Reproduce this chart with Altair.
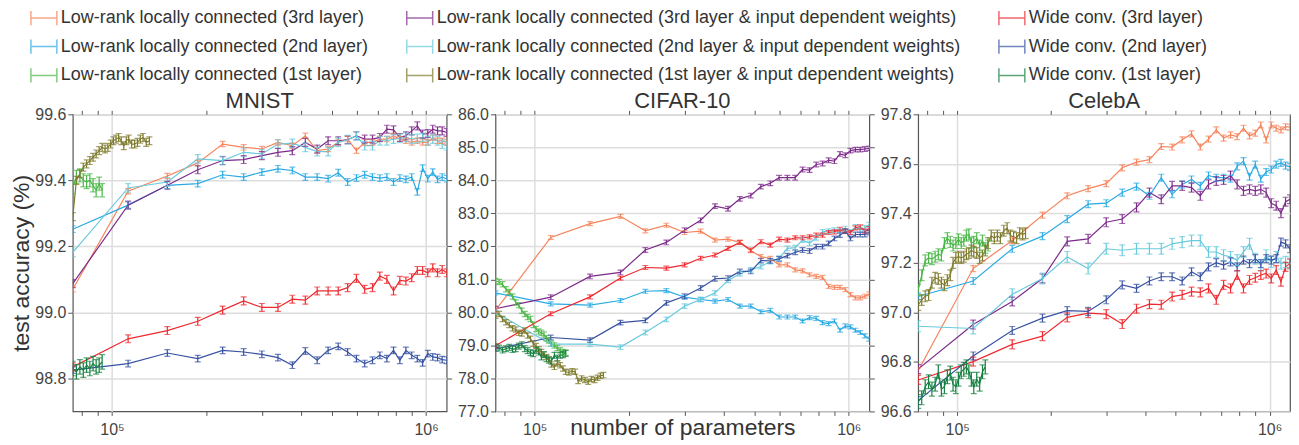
import altair as alt
import pandas as pd

FONT = "Liberation Sans"

# ---------------- series definitions (legend order: column-major, 3 columns) ----------------
SERIES = ["LR3", "LR2", "LR1", "LR3I", "LR2I", "LR1I", "W3", "W2", "W1"]
LABELS = [
    "Low-rank locally connected (3rd layer)",
    "Low-rank locally connected (2nd layer)",
    "Low-rank locally connected (1st layer)",
    "Low-rank locally connected (3rd layer & input dependent weights)",
    "Low-rank locally connected (2nd layer & input dependent weights)",
    "Low-rank locally connected (1st layer & input dependent weights)",
    "Wide conv. (3rd layer)",
    "Wide conv. (2nd layer)",
    "Wide conv. (1st layer)",
]
COLORS = ["#F6845C", "#2AAAE2", "#4CB848", "#7D2B8B", "#6ACADD", "#7E7B2C", "#EE2A2F", "#3852A3", "#168040"]

# ---------------- x positions ----------------
X_MAIN = [75000, 112500, 150000, 187500, 225000, 262500, 300000, 337500, 375000, 412500,
          450000, 487500, 525000, 562500, 600000, 637500, 675000, 712500, 750000, 787500,
          825000, 862500, 900000, 937500, 975000, 1012500, 1050000, 1087500, 1125000, 1162500]
X_DENSE = [75000, 77000, 79000, 81000, 83000, 85000, 87000, 89000, 91000, 93000,
           95000, 97000, 99000, 101000, 103000, 105000, 107000, 109000, 111000, 113000,
           115500, 118000, 120500, 123000, 125500, 128500, 131500, 134500, 137500, 141000,
           144500, 148000, 151500, 155000, 158500, 162000, 165500]

# ---------------- MNIST ----------------
MNIST_LR3 = [99.07, 99.367, 99.413, 99.453, 99.51, 99.50, 99.495, 99.515, 99.505, 99.535,
             99.49, 99.495, 99.515, 99.525, 99.49, 99.515, 99.515, 99.525, 99.525, 99.535,
             99.525, 99.52, 99.515, 99.52, 99.515, 99.515, 99.53, 99.52, 99.52, 99.515]
MNIST_LR2 = [99.252, 99.325, 99.385, 99.39, 99.417, 99.41, 99.425, 99.435, 99.43, 99.41,
             99.41, 99.405, 99.423, 99.395, 99.407, 99.417, 99.41, 99.407, 99.41, 99.395,
             99.407, 99.403, 99.41, 99.365, 99.437, 99.405, 99.425, 99.403, 99.41, 99.405]
MNIST_LR2I = [99.182, 99.377, 99.395, 99.465, 99.46, 99.485, 99.48, 99.51, 99.512, 99.50,
              99.487, 99.487, 99.515, 99.523, 99.535, 99.505, 99.505, 99.52, 99.52, 99.525,
              99.527, 99.53, 99.525, 99.527, 99.53, 99.52, 99.525, 99.52, 99.51, 99.505]
MNIST_LR3I = [99.087, 99.325, 99.385, 99.432, 99.46, 99.463, 99.475, 99.485, 99.49, 99.515,
              99.495, 99.52, 99.52, 99.523, 99.535, 99.525, 99.525, 99.53, 99.555, 99.553,
              99.53, 99.535, 99.55, 99.565, 99.54, 99.542, 99.555, 99.55, 99.55, 99.545]
MNIST_W3 = [98.835, 98.92, 98.945, 98.973, 99.007, 99.035, 99.015, 99.015, 99.04, 99.037,
            99.065, 99.065, 99.065, 99.075, 99.103, 99.07, 99.075, 99.11, 99.10, 99.065,
            99.097, 99.095, 99.105, 99.127, 99.127, 99.12, 99.135, 99.12, 99.13, 99.12]
MNIST_W2 = [98.825, 98.845, 98.877, 98.86, 98.885, 98.88, 98.873, 98.863, 98.84, 98.883,
            98.855, 98.885, 98.897, 98.88, 98.86, 98.845, 98.855, 98.87, 98.86, 98.885,
            98.855, 98.885, 98.87, 98.86, 98.847, 98.875, 98.865, 98.863, 98.857, 98.855]
MNIST_LR1 = [99.38, 99.41, 99.415, 99.40, 99.395, 99.40, 99.385, 99.37, 99.39, 99.37]
MNIST_LR1I = [99.29, 99.40, 99.42, 99.44, 99.45, 99.46, 99.47, 99.48, 99.49, 99.50,
              99.495, 99.50, 99.51, 99.52, 99.525, 99.53, 99.52, 99.505, 99.52, 99.525,
              99.51, 99.51, 99.515, 99.525, 99.53, 99.515, 99.52]
MNIST_W1 = [98.83, 98.82, 98.835, 98.825, 98.84, 98.83, 98.845, 98.835, 98.84, 98.85]

# ---------------- CIFAR-10 ----------------
CIFAR_LR3 = [80.06, 82.27, 82.69, 82.91, 82.47, 82.64, 82.42, 82.46, 82.19, 82.22,
             82.12, 81.87, 81.69, 81.64, 81.44, 81.44, 81.29, 81.26, 81.14, 81.09,
             81.06, 80.79, 80.76, 80.76, 80.69, 80.54, 80.44, 80.44, 80.49, 80.56]
CIFAR_LR2 = [80.59, 80.26, 80.22, 80.36, 80.64, 80.66, 80.46, 80.39, 80.34, 80.39,
             80.19, 80.19, 80.02, 80.06, 79.86, 79.86, 79.86, 79.74, 79.84, 79.82,
             79.69, 79.66, 79.74, 79.46, 79.59, 79.56, 79.46, 79.39, 79.29, 79.19]
CIFAR_LR2I = [80.00, 79.04, 79.04, 78.95, 79.39, 79.79, 80.19, 80.39, 80.59, 80.97,
              81.17, 81.29, 81.39, 81.54, 81.64, 81.94, 81.96, 82.19, 82.09, 82.26,
              82.44, 82.46, 82.49, 82.46, 82.54, 82.44, 82.59, 82.49, 82.56, 82.66]
CIFAR_LR3I = [80.11, 80.46, 81.09, 81.21, 81.89, 82.12, 82.49, 82.79, 83.22, 83.14,
              83.44, 83.54, 83.81, 83.91, 84.08, 84.08, 84.08, 84.33, 84.31, 84.48,
              84.51, 84.61, 84.58, 84.80, 84.76, 84.90, 84.93, 84.93, 84.95, 84.97]
CIFAR_W3 = [78.99, 79.96, 80.47, 81.04, 81.36, 81.34, 81.44, 81.64, 81.74, 81.94,
            82.12, 81.89, 82.14, 82.04, 82.22, 82.19, 82.26, 82.26, 82.29, 82.34,
            82.34, 82.42, 82.44, 82.52, 82.46, 82.42, 82.56, 82.59, 82.46, 82.54]
CIFAR_W2 = [78.89, 79.24, 79.16, 79.69, 79.76, 80.29, 80.49, 80.74, 81.02, 81.04,
            81.24, 81.24, 81.57, 81.56, 81.62, 81.72, 81.82, 81.89, 81.86, 81.99,
            81.99, 82.09, 82.24, 82.34, 82.46, 82.24, 82.36, 82.36, 82.36, 82.42]
CIFAR_LR1 = [80.95, 80.92, 80.85, 80.70, 80.62, 80.48, 80.30, 80.22, 80.05, 79.95,
             79.86, 79.80, 79.62, 79.50, 79.42, 79.38, 79.33, 79.22, 79.15, 79.05,
             79.00, 78.92, 78.85, 78.80, 78.78]
CIFAR_LR1I = [79.90, 79.95, 79.80, 79.70, 79.62, 79.52, 79.48, 79.38, 79.36, 79.45,
              79.30, 79.20, 79.05, 78.98, 78.88, 78.80, 78.72, 78.65, 78.58, 78.42,
              78.35, 78.45, 78.40, 78.30, 78.20, 78.18, 78.22, 78.20, 77.92, 78.00,
              77.95, 77.90, 77.98, 77.95, 78.02, 78.08, 78.10]
CIFAR_W1 = [78.95, 78.92, 78.86, 78.90, 78.94, 78.88, 78.90, 78.98, 79.02, 78.90,
            78.84, 78.78, 78.75, 78.85, 78.80, 78.65, 78.72, 78.60, 78.55, 78.52,
            78.70, 78.62, 78.70, 78.72, 78.76]

# ---------------- CelebA ----------------
CELEBA_LR3 = [96.764, 97.177, 97.29, 97.393, 97.471, 97.50, 97.52, 97.584, 97.607, 97.617,
              97.67, 97.668, 97.697, 97.721, 97.668, 97.70, 97.737, 97.704, 97.717, 97.71,
              97.744, 97.713, 97.724, 97.757, 97.697, 97.757, 97.744, 97.737, 97.75, 97.748]
CELEBA_LR2 = [97.064, 97.127, 97.257, 97.308, 97.377, 97.437, 97.441, 97.484, 97.508, 97.471,
              97.544, 97.477, 97.517, 97.537, 97.511, 97.553, 97.544, 97.544, 97.54, 97.59,
              97.611, 97.548, 97.597, 97.54, 97.567, 97.577, 97.597, 97.604, 97.593, 97.588]
CELEBA_LR2I = [96.944, 96.935, 97.073, 97.137, 97.224, 97.177, 97.257, 97.251, 97.257, 97.257,
               97.257, 97.277, 97.284, 97.29, 97.29, 97.244, 97.244, 97.231, 97.224, 97.211,
               97.244, 97.277, 97.217, 97.19, 97.231, 97.204, 97.224, 97.197, 97.204, 97.197]
CELEBA_LR3I = [96.771, 96.951, 97.044, 97.137, 97.287, 97.297, 97.364, 97.377, 97.424, 97.484,
               97.457, 97.511, 97.511, 97.504, 97.471, 97.517, 97.531, 97.535, 97.553, 97.517,
               97.491, 97.497, 97.491, 97.497, 97.484, 97.441, 97.431, 97.401, 97.447, 97.457]
CELEBA_W3 = [96.727, 96.801, 96.871, 96.904, 96.98, 96.997, 96.993, 96.953, 97.015, 97.033,
             97.031, 97.064, 97.071, 97.084, 97.081, 97.097, 97.051, 97.111, 97.097, 97.151,
             97.097, 97.131, 97.14, 97.151, 97.157, 97.137, 97.171, 97.124, 97.184, 97.197]
CELEBA_W2 = [96.644, 96.824, 96.927, 96.977, 97.007, 97.004, 97.051, 97.111, 97.097, 97.127,
             97.144, 97.144, 97.127, 97.164, 97.144, 97.184, 97.201, 97.191, 97.204, 97.184,
             97.211, 97.197, 97.217, 97.197, 97.217, 97.211, 97.217, 97.284, 97.277, 97.257]
CELEBA_LR1 = [97.09, 97.15, 97.21, 97.22, 97.215, 97.225, 97.235, 97.23, 97.28, 97.30,
              97.285, 97.27, 97.28, 97.295, 97.28, 97.29, 97.31, 97.315, 97.28, 97.285,
              97.30, 97.27, 97.29, 97.26, 97.27]
CELEBA_LR1I = [97.03, 97.05, 97.065, 97.07, 97.12, 97.14, 97.135, 97.12, 97.11, 97.13,
               97.15, 97.20, 97.22, 97.225, 97.22, 97.225, 97.235, 97.24, 97.25, 97.245,
               97.24, 97.22, 97.23, 97.25, 97.28, 97.31, 97.30, 97.31, 97.30, 97.33,
               97.34, 97.31, 97.305, 97.30, 97.32, 97.315, 97.32]
CELEBA_W1 = [96.64, 96.655, 96.70, 96.72, 96.69, 96.71, 96.76, 96.69, 96.70, 96.74,
             96.755, 96.71, 96.70, 96.73, 96.76, 96.77, 96.78, 96.76, 96.73, 96.70,
             96.73, 96.71, 96.76, 96.78]

# error-bar half widths, in SERIES order
ERR_MNIST = [0.008, 0.010, 0.020, 0.012, 0.013, 0.012, 0.012, 0.010, 0.022]
ERR_CIFAR = [0.06, 0.06, 0.08, 0.07, 0.07, 0.08, 0.06, 0.07, 0.09]
ERR_CELEBA = [0.012, 0.014, 0.022, 0.018, 0.022, 0.022, 0.018, 0.016, 0.028]

PANELS = {
    "MNIST": ({"LR3": MNIST_LR3, "LR3I": MNIST_LR3I, "W3": MNIST_W3, "LR2": MNIST_LR2,
               "LR2I": MNIST_LR2I, "W2": MNIST_W2, "LR1": MNIST_LR1, "LR1I": MNIST_LR1I,
               "W1": MNIST_W1}, ERR_MNIST),
    "CIFAR-10": ({"LR3": CIFAR_LR3, "LR3I": CIFAR_LR3I, "W3": CIFAR_W3, "LR2": CIFAR_LR2,
                  "LR2I": CIFAR_LR2I, "W2": CIFAR_W2, "LR1": CIFAR_LR1, "LR1I": CIFAR_LR1I,
                  "W1": CIFAR_W1}, ERR_CIFAR),
    "CelebA": ({"LR3": CELEBA_LR3, "LR3I": CELEBA_LR3I, "W3": CELEBA_W3, "LR2": CELEBA_LR2,
                "LR2I": CELEBA_LR2I, "W2": CELEBA_W2, "LR1": CELEBA_LR1, "LR1I": CELEBA_LR1I,
                "W1": CELEBA_W1}, ERR_CELEBA),
}

rows = []
for pname, (sdict, errs) in PANELS.items():
    for i, key in enumerate(SERIES):
        vals = sdict[key]
        xs = X_DENSE if key in ("LR1", "LR1I", "W1") else X_MAIN
        for x, v in zip(xs, vals):
            rows.append({"panel": pname, "series": LABELS[i], "x": x, "v": v,
                         "lo": v - errs[i], "hi": v + errs[i]})
df = pd.DataFrame(rows)

XTICKS = [80000, 90000, 100000, 200000, 300000, 400000, 500000, 600000, 700000, 800000, 900000, 1000000]
XDOM = [75000, 1162500]
MAJOR = "datum.value == 100000 || datum.value == 1000000"

LEGEND = alt.Legend(
    title=None, orient="none", legendX=-43, legendY=-111, columns=3, direction="vertical",
    columnPadding=35, rowPadding=4,
    symbolType="M-1,0H1M-1,-0.55V0.55M1,-0.55V0.55", symbolSize=676,
    symbolStrokeWidth=1.5, symbolFillColor="transparent",
    labelFont=FONT, labelFontSize=18, labelColor="#333333", labelOffset=3, labelLimit=1000,
)


def make_panel(name, ydom, yticks, width, ytitle=None, xtitle=None, right=True):
    d = df[df.panel == name]
    xs = alt.Scale(type="log", domain=XDOM, nice=False)
    ys = alt.Scale(domain=ydom, nice=False, zero=False)
    col = alt.Color("series:N", scale=alt.Scale(domain=LABELS, range=COLORS), legend=LEGEND)

    xkw = dict(values=XTICKS, grid=True, gridColor="#dddddd", gridWidth=1.5,
               gridOpacity={"condition": {"test": MAJOR, "value": 1}, "value": 0},
               labelExpr="datum.value == 100000 ? '10⁵' : (datum.value == 1000000 ? '10⁶' : '')",
               labelFont=FONT, labelFontSize=16, labelColor="#444444", labelPadding=6,
               labelOverlap=False, labelFlush=False,
               tickSize=4, tickColor="#555555", domain=False)
    if xtitle:
        xkw.update(title=xtitle, titleFont=FONT, titleFontSize=23, titleFontWeight="normal",
                   titleColor="#333333", titleY=23, titleBaseline="alphabetic")
    else:
        xkw.update(title=None)
    ykw = dict(values=yticks, format=".1f", grid=True, gridColor="#dddddd", gridWidth=1.5,
               labelFont=FONT, labelFontSize=16, labelColor="#444444", labelPadding=2,
               tickSize=5, tickColor="#555555", domain=False)
    if ytitle:
        ykw.update(title=ytitle, titleFont=FONT, titleFontSize=23, titleFontWeight="normal",
                   titleColor="#333333", titlePadding=1)
    else:
        ykw.update(title=None)

    base = alt.Chart(d)
    line = base.mark_line(strokeWidth=1.2, clip=True).encode(
        x=alt.X("x:Q", scale=xs, axis=alt.Axis(**xkw)),
        y=alt.Y("v:Q", scale=ys, axis=alt.Axis(**ykw)),
        color=col,
    )
    bars = base.mark_rule(strokeWidth=1.2, clip=True).encode(
        x=alt.X("x:Q", scale=xs, axis=None),
        y=alt.Y("lo:Q", scale=ys, axis=None),
        y2="hi:Q",
        color=col,
    )
    cap_lo = base.mark_tick(orient="horizontal", size=6, thickness=1.2, clip=True).encode(
        x=alt.X("x:Q", scale=xs, axis=None),
        y=alt.Y("lo:Q", scale=ys, axis=None),
        color=col,
    )
    top_axis = alt.Axis(orient="top", values=XTICKS, labels=False, tickSize=4,
                        tickColor="#555555", grid=False, domain=False, title=None)
    if right:
        right_axis = alt.Axis(orient="right", values=yticks, labels=False, tickSize=5,
                              tickColor="#555555", grid=False, domain=False, title=None)
    else:
        right_axis = None
    cap_hi = base.mark_tick(orient="horizontal", size=6, thickness=1.2, clip=True).encode(
        x=alt.X("x:Q", scale=xs, axis=top_axis),
        y=alt.Y("hi:Q", scale=ys, axis=right_axis),
        color=col,
    )
    return alt.layer(line, bars, cap_lo, cap_hi).resolve_axis(
        x="independent", y="independent"
    ).properties(
        width=width, height=298,
        title=alt.TitleParams(name, font=FONT, fontSize=22, fontWeight="normal",
                              color="#333333", offset=3, dy=10),
    )


p1 = make_panel("MNIST", [98.7, 99.6], [98.8, 99.0, 99.2, 99.4, 99.6], 375,
                ytitle="test accuracy (%)")
p2 = make_panel("CIFAR-10", [77.0, 86.0], [77, 78, 79, 80, 81, 82, 83, 84, 85, 86], 375,
                xtitle="number of parameters")
p3 = make_panel("CelebA", [96.6, 97.8], [96.6, 96.8, 97.0, 97.2, 97.4, 97.6, 97.8], 373,
                right=False)

chart = alt.hconcat(p1, p2, p3, spacing=49, bounds="flush").properties(
    padding={"left": 2, "top": -5, "right": 0, "bottom": 0}
).configure_view(stroke="#555555", strokeWidth=1.2)

chart.save("out.html", embed_options={"renderer": "svg", "actions": False})
